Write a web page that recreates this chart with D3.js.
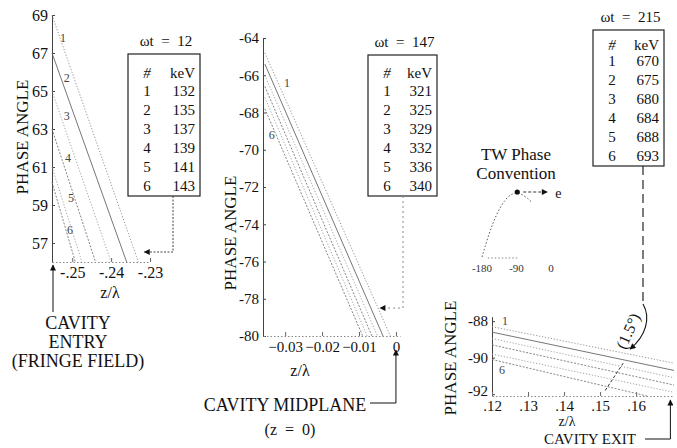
<!DOCTYPE html>
<html>
<head>
<meta charset="utf-8">
<script src="https://cdn.jsdelivr.net/npm/d3@7"></script>
<style>
body { margin: 0; background: #fff; }
svg, svg text { font-family: "Liberation Serif", "DejaVu Serif", serif; }
</style>
</head>
<body>
<svg id="fig" width="677" height="448"></svg>
<script>
// ---------- data ----------
const omegaT = [12, 147, 215];
const particleIds = [1, 2, 3, 4, 5, 6];

// cavity entry (fringe field)
const entryTicksY = [57, 59, 61, 63, 65, 67, 69];
const entryTicksX = [-0.25, -0.24, -0.23];
const entryKeV = [132, 135, 137, 139, 141, 143];
const entryLines = [
  [[-0.2552, 69.0], [-0.2330, 56.0]],
  [[-0.2552, 67.0], [-0.2360, 56.0]],
  [[-0.2552, 65.0], [-0.2400, 56.0]],
  [[-0.2552, 63.0], [-0.2440, 56.0]],
  [[-0.2552, 61.0], [-0.2475, 56.0]],
  [[-0.2552, 60.2], [-0.2492, 56.0]]
];
const entryLabels = [[-0.2524, 67.8], [-0.2514, 65.7], [-0.2514, 63.7], [-0.2511, 61.5], [-0.2503, 59.4], [-0.2506, 57.7]];

// cavity midplane
const midTicksY = [-80, -78, -76, -74, -72, -70, -68, -66, -64];
const midTicksX = [-0.03, -0.02, -0.01, 0];
const midKeV = [321, 325, 329, 332, 336, 340];
const midLines = [
  [[-0.0355, -64.8], [-0.0015, -80]],
  [[-0.0355, -65.4], [-0.0035, -80]],
  [[-0.0355, -66.0], [-0.0050, -80]],
  [[-0.0355, -66.6], [-0.0065, -80]],
  [[-0.0355, -67.2], [-0.0078, -80]],
  [[-0.0355, -67.8], [-0.0090, -80]]
];
const midLabels = [[-0.0295, -66.4], null, null, null, null, [-0.0336, -69.2]];

// cavity exit
const exitTicksY = [-92, -90, -88];
const exitTicksX = [0.12, 0.13, 0.14, 0.15, 0.16];
const exitKeV = [670, 675, 680, 684, 688, 693];
const exitLines = [
  [[0.12, -88.3], [0.1705, -90.3]],
  [[0.12, -88.6], [0.1705, -90.7]],
  [[0.12, -88.95], [0.1705, -91.1]],
  [[0.12, -89.3], [0.1705, -91.5]],
  [[0.12, -89.8], [0.1705, -91.9]],
  [[0.12, -90.1], [0.163, -92.1]]
];
const exitLabels = [[0.1236, -88.0], null, null, null, null, [0.1228, -90.68]];
const spreadMark = [[0.1514, -91.8], [0.1564, -90.3]];
const exitZ = 0.1695;

// TW phase convention sketch
const twTicks = [-180, -90, 0];
const twCurve = [[-180, 0], [-165, 0.3], [-150, 0.55], [-130, 0.8], [-110, 0.95], [-90, 1], [-75, 0.96], [-60, 0.9], [-50, 0.84]];
const twDot = [-88, 1];

// ---------- drawing ----------
const FONT = "Liberation Serif, DejaVu Serif, serif";
const svg = d3.select("#fig").attr("font-family", FONT);
const ink = "#111";

const defs = svg.append("defs");
defs.append("marker")
  .attr("id", "arr")
  .attr("viewBox", "0 0 10 10")
  .attr("refX", 9).attr("refY", 5)
  .attr("markerWidth", 8).attr("markerHeight", 6)
  .attr("markerUnits", "userSpaceOnUse")
  .attr("orient", "auto")
  .append("path").attr("d", "M0,0L10,5L0,10z").attr("fill", ink);

const lineDash = ["1.2,1.8", "none", "1.2,1.8", "2,1.5", "1.2,1.8", "2,1.5"];
const lineColor = ["#888", "#666", "#999", "#777", "#999", "#777"];

function txt(parent) {
  return parent.append("text").attr("font-family", FONT).attr("fill", ink);
}

function panel(opt) {
  const g = svg.append("g");
  const x = d3.scaleLinear().domain(opt.xDomain).range(opt.xRange);
  const y = d3.scaleLinear().domain(opt.yDomain).range(opt.yRange);

  // y axis, ticks pointing inward
  g.append("g")
    .attr("transform", `translate(${opt.xRange[0]},0)`)
    .call(d3.axisLeft(y).tickValues(opt.ticksY).tickSize(-3).tickSizeOuter(0).tickPadding(4).tickFormat(d => String(d)))
    .attr("font-family", FONT)
    .call(a => a.select(".domain").attr("stroke", "#444").attr("stroke-width", 1))
    .call(a => a.selectAll(".tick line").attr("stroke", "#444"))
    .call(a => a.selectAll(".tick text")
      .attr("font-family", FONT).attr("font-size", opt.tickFont).attr("fill", ink)
      .attr("dy", (d, i) => i === 0 && opt.liftFirst ? "0.1em" : "0.32em"));

  // x axis, dotted
  g.append("g")
    .attr("transform", `translate(0,${opt.yRange[0]})`)
    .call(d3.axisBottom(x).tickValues(opt.ticksX).tickSize(-4).tickSizeOuter(0).tickPadding(opt.padX || 5).tickFormat(opt.fmtX))
    .attr("font-family", FONT)
    .call(a => a.select(".domain").attr("stroke", "#888").attr("stroke-dasharray", "1.5,2"))
    .call(a => a.selectAll(".tick line").attr("stroke", "#666"))
    .call(a => a.selectAll(".tick text")
      .attr("font-family", FONT).attr("font-size", opt.tickFont).attr("fill", ink));

  const line = d3.line().x(d => x(d[0])).y(d => y(d[1]));
  g.selectAll(".traj").data(opt.lines).join("path")
    .attr("class", "traj")
    .attr("fill", "none")
    .attr("stroke", (d, i) => lineColor[i])
    .attr("stroke-width", 0.9)
    .attr("stroke-dasharray", (d, i) => lineDash[i])
    .attr("d", line);

  opt.labels.forEach((p, i) => {
    if (!p) return;
    txt(g).attr("x", x(p[0])).attr("y", y(p[1]))
      .attr("dy", "0.35em").attr("text-anchor", "middle")
      .attr("font-size", 12).attr("fill", "#444").text(particleIds[i]);
  });

  // axis titles
  txt(g)
    .attr("transform", `translate(${opt.yTitle[0]},${opt.yTitle[1]}) rotate(-90)`)
    .attr("text-anchor", "middle").attr("dy", "0.35em")
    .attr("font-size", 17).text("PHASE ANGLE");
  txt(g)
    .attr("x", opt.xTitle[0]).attr("y", opt.xTitle[1])
    .attr("text-anchor", "middle").attr("dy", "0.35em")
    .attr("font-size", opt.xTitleFont || 16).text("z/λ");
  return { g, x, y };
}

function table(wt, keV, left, right, top, headY, rowY, step) {
  const g = svg.append("g");
  txt(g).attr("x", (left + right) / 2 + 2).attr("y", top - 8)
    .attr("text-anchor", "middle").attr("font-size", 15)
    .attr("xml:space", "preserve")
    .text(`ωt  =  ${wt}`);
  const bottom = rowY + step * 5 + 10;
  g.append("rect").attr("x", left).attr("y", top)
    .attr("width", right - left).attr("height", bottom - top)
    .attr("fill", "none").attr("stroke", "#222").attr("stroke-width", 1.2);
  const cNum = left + 19, cVal = right - 5;
  txt(g).attr("x", cNum).attr("y", headY).attr("dy", "0.35em")
    .attr("text-anchor", "middle").attr("font-size", 15).attr("font-style", "italic").text("#");
  txt(g).attr("x", cVal).attr("y", headY).attr("dy", "0.35em")
    .attr("text-anchor", "end").attr("font-size", 15).text("keV");
  keV.forEach((v, i) => {
    txt(g).attr("x", cNum).attr("y", rowY + i * step).attr("dy", "0.35em")
      .attr("text-anchor", "middle").attr("font-size", 15).text(particleIds[i]);
    txt(g).attr("x", cVal).attr("y", rowY + i * step).attr("dy", "0.35em")
      .attr("text-anchor", "end").attr("font-size", 15).text(v);
  });
  return bottom;
}

function caption(lines, cx, y0, step, size) {
  lines.forEach((t, i) => {
    txt(svg).attr("x", cx).attr("y", y0 + i * step).attr("dy", "0.35em")
      .attr("text-anchor", "middle").attr("font-size", size || 18)
      .attr("xml:space", "preserve").text(t);
  });
}

// ----- panel 1: cavity entry -----
const p1 = panel({
  xDomain: [-0.2552, -0.2300], xRange: [52, 150],
  yDomain: [56, 69], yRange: [262, 15],
  ticksY: entryTicksY, ticksX: entryTicksX, tickFont: 16,
  fmtX: d => "-" + d3.format(".2f")(-d).slice(1),
  lines: entryLines, labels: entryLabels,
  yTitle: [22, 137], xTitle: [110, 292]
});
const b1 = table(omegaT[0], entryKeV, 128, 200, 54, 73, 91, 19);
svg.append("path")
  .attr("d", `M173,${b1}V252H${p1.x(-0.2330) + 6}`)
  .attr("fill", "none").attr("stroke", "#444").attr("stroke-dasharray", "2,1.5")
  .attr("marker-end", "url(#arr)");
svg.append("path")
  .attr("d", `M${p1.x(-0.2552) + 1},312V265`)
  .attr("fill", "none").attr("stroke", ink).attr("marker-end", "url(#arr)");
caption(["CAVITY", "ENTRY", "(FRINGE FIELD)"], 78, 323, 19);

// ----- panel 2: cavity midplane -----
const p2 = panel({
  xDomain: [-0.036, 0.0011], xRange: [263, 400],
  yDomain: [-80, -64], yRange: [336, 38],
  ticksY: midTicksY, ticksX: midTicksX, tickFont: 15,
  fmtX: d => d === 0 ? "0" : d3.format(".2f")(d).replace("-0.", "-."),
  lines: midLines, labels: midLabels,
  yTitle: [230, 233], xTitle: [300, 370]
});
const b2 = table(omegaT[1], midKeV, 368, 437, 55, 73, 91, 19);
svg.append("path")
  .attr("d", `M403,${b2}V${p2.y(-78.5)}H${p2.x(-0.0043)}`)
  .attr("fill", "none").attr("stroke", "#888").attr("stroke-dasharray", "2,3")
  .attr("marker-end", "url(#arr)");
svg.append("path")
  .attr("d", `M370,403H${p2.x(0)}V350`)
  .attr("fill", "none").attr("stroke", ink).attr("marker-end", "url(#arr)");
caption(["CAVITY MIDPLANE"], 285, 405, 0);
caption(["(z  =  0)"], 290, 429, 0, 16);

// ----- panel 3: cavity exit -----
const p3 = panel({
  xDomain: [0.12, 0.1705], xRange: [492, 674],
  yDomain: [-92.1, -87.75], yRange: [396, 316.6],
  ticksY: exitTicksY, ticksX: exitTicksX, tickFont: 15, padX: 4, liftFirst: true,
  fmtX: d => d3.format(".2f")(d).slice(1),
  lines: exitLines, labels: exitLabels,
  yTitle: [450, 358], xTitle: [567, 421], xTitleFont: 14
});
p3.g.append("path")
  .attr("d", d3.line().x(d => p3.x(d[0])).y(d => p3.y(d[1]))(spreadMark))
  .attr("stroke", "#333").attr("stroke-dasharray", "3,2").attr("fill", "none");
txt(p3.g)
  .attr("transform", `translate(628,331) rotate(-66)`)
  .attr("text-anchor", "middle").attr("dy", "0.35em")
  .attr("font-size", 16).text("(1.5°)");
const b3 = table(omegaT[2], exitKeV, 593, 664, 30, 45, 61, 19);
svg.append("path")
  .attr("d", `M643,${b3}V304`)
  .attr("fill", "none").attr("stroke", ink).attr("stroke-width", 1.1).attr("stroke-dasharray", "9,5");
svg.append("path")
  .attr("d", "M643,304C651,318 646,336 630,349")
  .attr("fill", "none").attr("stroke", ink).attr("stroke-width", 1.1).attr("marker-end", "url(#arr)");
svg.append("path")
  .attr("d", `M645,439H${p3.x(exitZ)}V400`)
  .attr("fill", "none").attr("stroke", ink).attr("marker-end", "url(#arr)");
caption(["CAVITY EXIT"], 590, 439, 0, 15);

// ----- TW phase convention sketch -----
const tx = d3.scaleLinear().domain([-180, 0]).range([482, 551]);
const ty = d3.scaleLinear().domain([0, 1]).range([257, 192]);
caption(["TW Phase", "Convention"], 516, 154, 19, 17);
svg.append("path")
  .attr("d", d3.line().x(d => tx(d[0])).y(d => ty(d[1])).curve(d3.curveBasis)(twCurve))
  .attr("fill", "none").attr("stroke", "#555").attr("stroke-dasharray", "1.5,2");
svg.append("line")
  .attr("x1", tx(-165)).attr("x2", tx(-85)).attr("y1", 258).attr("y2", 258)
  .attr("stroke", "#888").attr("stroke-dasharray", "1.5,2");
svg.append("circle").attr("cx", tx(twDot[0])).attr("cy", ty(twDot[1])).attr("r", 2.6).attr("fill", ink);
svg.append("path")
  .attr("d", `M${tx(twDot[0]) + 6},${ty(1)}H${tx(twDot[0]) + 30}`)
  .attr("stroke", "#333").attr("stroke-dasharray", "3,2").attr("marker-end", "url(#arr)");
txt(svg).attr("x", tx(twDot[0]) + 38).attr("y", ty(1) + 1).attr("dy", "0.35em")
  .attr("font-size", 14).text("e");
twTicks.forEach(t => {
  txt(svg).attr("x", tx(t)).attr("y", 268).attr("dy", "0.35em")
    .attr("text-anchor", "middle").attr("font-size", 11).attr("fill", "#333").text(String(t));
});
</script>
</body>
</html>
